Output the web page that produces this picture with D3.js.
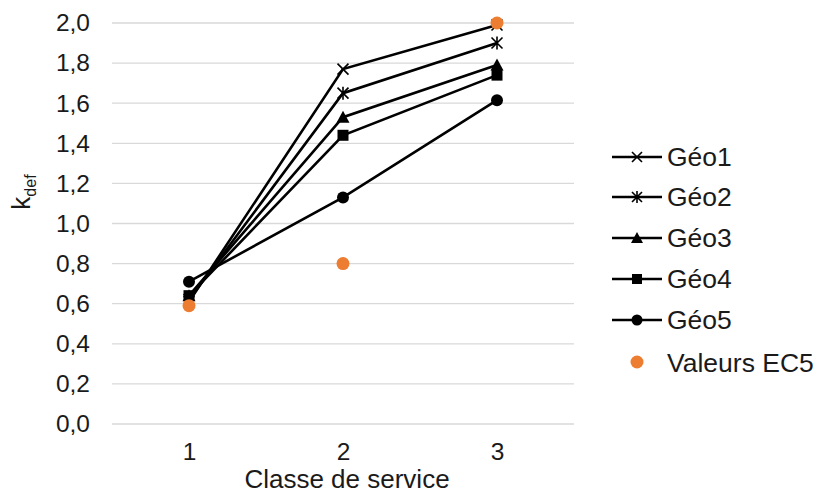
<!DOCTYPE html>
<html><head><meta charset="utf-8">
<script src="https://cdn.jsdelivr.net/npm/d3@7"></script>
<style>body{margin:0;background:#fff}svg text{font-family:"Liberation Sans",Arial,sans-serif}</style>
</head><body><svg id="c" width="820" height="498"></svg>
<script>
const categories = ["1","2","3"];
const yTicks = [0,0.2,0.4,0.6,0.8,1.0,1.2,1.4,1.6,1.8,2.0];
const geo1 = [0.61,1.77,1.99];
const geo2 = [0.62,1.65,1.90];
const geo3 = [0.64,1.53,1.79];
const geo4 = [0.64,1.44,1.74];
const geo5 = [0.71,1.13,1.615];
const ec5 = [0.59,0.80,2.00];
const seriesNames = ["Géo1","Géo2","Géo3","Géo4","Géo5"];
const seriesSymbols = ["x","asterisk","triangle","square","circle"];
const ec5Name = "Valeurs EC5";

const svg = d3.select("#c");
const x = d3.scalePoint().domain(categories).range([189,497]);
const y = d3.scaleLinear().domain([0,2]).range([424,23]);
const fmt = d => d3.format(".1f")(d).replace(".", ",");

svg.append("g").selectAll("line").data(yTicks).join("line")
  .attr("x1",112).attr("x2",574).attr("y1",d=>y(d)).attr("y2",d=>y(d))
  .attr("stroke","#d9d9d9").attr("stroke-width",1.3);
const ya = svg.append("g").attr("transform","translate(112,0)")
  .call(d3.axisLeft(y).tickValues(yTicks).tickFormat(fmt).tickSize(0).tickPadding(22));
ya.select(".domain").remove();
ya.selectAll("text").attr("font-size",24.5).attr("fill","#1a1a1a").attr("font-family","Liberation Sans, Arial, sans-serif");
const xa = svg.append("g").attr("transform","translate(0,424)")
  .call(d3.axisBottom(x).tickSize(0).tickPadding(19));
xa.select(".domain").remove();
xa.selectAll("text").attr("font-size",24.5).attr("fill","#1a1a1a").attr("font-family","Liberation Sans, Arial, sans-serif");

svg.append("text").attr("x",347).attr("y",488).attr("text-anchor","middle")
  .attr("font-size",26).attr("fill","#1a1a1a").text("Classe de service");
const yl = svg.append("text").attr("transform","translate(30,192) rotate(-90)")
  .attr("text-anchor","middle").attr("font-size",26).attr("fill","#1a1a1a");
yl.append("tspan").text("k");
yl.append("tspan").attr("font-size",16).attr("dy",6).text("def");

function marker(g, type, cx, cy, s) {
  if (type==="x") {
    g.append("path").attr("d",`M${cx-s},${cy-s}L${cx+s},${cy+s}M${cx-s},${cy+s}L${cx+s},${cy-s}`)
      .attr("stroke","#000").attr("stroke-width",1.6).attr("fill","none");
  } else if (type==="asterisk") {
    g.append("path").attr("d",`M${cx-s},${cy-s}L${cx+s},${cy+s}M${cx-s},${cy+s}L${cx+s},${cy-s}M${cx},${cy-s-1}L${cx},${cy+s+1}`)
      .attr("stroke","#000").attr("stroke-width",1.6).attr("fill","none");
  } else if (type==="triangle") {
    g.append("path").attr("d",`M${cx},${cy-s-1}L${cx+s+1},${cy+s}L${cx-s-1},${cy+s}Z`).attr("fill","#000");
  } else if (type==="square") {
    g.append("rect").attr("x",cx-s).attr("y",cy-s).attr("width",2*s).attr("height",2*s).attr("fill","#000");
  } else {
    g.append("circle").attr("cx",cx).attr("cy",cy).attr("r",s+0.5).attr("fill","#000");
  }
}

const allSeries = [geo1,geo2,geo3,geo4,geo5];
const line = d3.line().x((d,i)=>x(categories[i])).y(d=>y(d));
allSeries.forEach((vals,k)=>{
  const g = svg.append("g");
  g.append("path").datum(vals).attr("d",line).attr("fill","none").attr("stroke","#000").attr("stroke-width",2.6);
  vals.forEach((v,i)=>marker(g, seriesSymbols[k], x(categories[i]), y(v), 5.5));
});
svg.append("g").selectAll("circle").data(ec5).join("circle")
  .attr("cx",(d,i)=>x(categories[i])).attr("cy",d=>y(d)).attr("r",6.5).attr("fill","#ed7d31");

const lg = svg.append("g");
const rowY = [157,197,238,279,320];
seriesNames.forEach((n,k)=>{
  lg.append("line").attr("x1",612).attr("x2",662).attr("y1",rowY[k]).attr("y2",rowY[k]).attr("stroke","#000").attr("stroke-width",2.6);
  marker(lg, seriesSymbols[k], 637, rowY[k], 5);
  lg.append("text").attr("x",667).attr("y",rowY[k]+9).attr("font-size",26.5).attr("fill","#1a1a1a").text(n);
});
lg.append("circle").attr("cx",637).attr("cy",362).attr("r",6.5).attr("fill","#ed7d31");
lg.append("text").attr("x",667).attr("y",372).attr("font-size",26.5).attr("fill","#1a1a1a").text(ec5Name);
</script></body></html>
